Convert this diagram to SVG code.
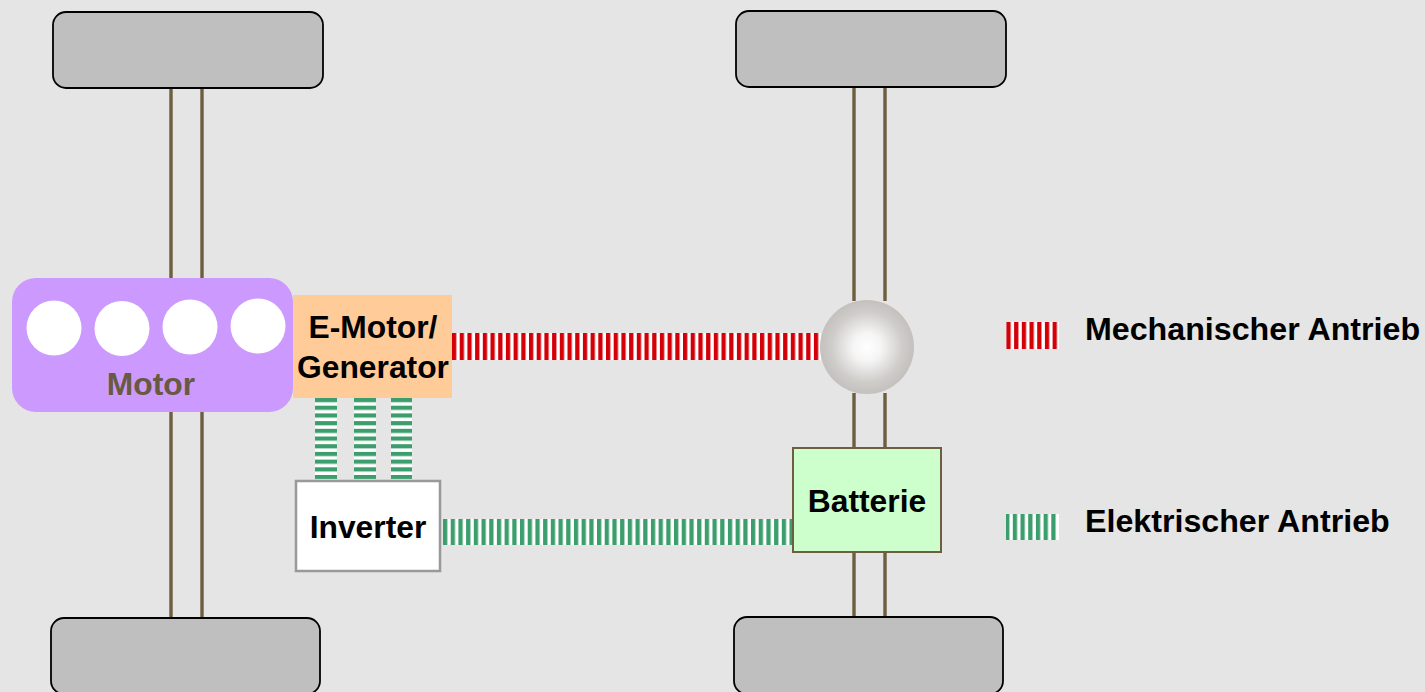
<svg xmlns="http://www.w3.org/2000/svg" width="1425" height="692" viewBox="0 0 1425 692">
<style>
.wheel{fill:#bfbfbf;stroke:#000;stroke-width:1.800}
.shaft{stroke:#6d5e3f;stroke-width:3.400;fill:none}
.cyl{fill:#fff}
text{font-family:"Liberation Sans",Arial,sans-serif;font-weight:700;font-size:31.800px;fill:#000;text-anchor:middle}
.legend{font-size:32.200px;text-anchor:start}
</style>
<defs>
<pattern id="redV" patternUnits="userSpaceOnUse" width="7.7" height="10" x="452"><rect width="7.7" height="10" fill="#fff"/><rect x="0" width="4.300" height="10" fill="#d40008"/></pattern>
<pattern id="greenV" patternUnits="userSpaceOnUse" width="7.7" height="10" x="443"><rect width="7.7" height="10" fill="#fff"/><rect x="0" width="4.300" height="10" fill="#3c9e6c"/></pattern>
<pattern id="greenH" patternUnits="userSpaceOnUse" width="10" height="7.7" y="398"><rect width="10" height="7.7" fill="#fff"/><rect y="0" width="10" height="4.200" fill="#3c9e6c"/></pattern>
<radialGradient id="ball"><stop offset="0" stop-color="#fff"/><stop offset=".3" stop-color="#f6f5f5"/><stop offset=".75" stop-color="#cfcdca"/><stop offset="1" stop-color="#c3c0bd"/></radialGradient>
</defs>
<rect width="1425" height="692" fill="#e5e5e5"/>
<g id="connectors">
<path class="shaft" d="M171 88V278M202 88V278M171 411V618M202 411V618M854 87V301M885 87V301M854 393V449M885 393V449M854 551V617M885 551V617"/>
<rect x="452" y="333" width="369" height="27" fill="url(#redV)"/>
<rect x="443" y="519" width="350" height="26" fill="url(#greenV)"/>
<rect x="315" y="398" width="22" height="81" fill="url(#greenH)"/>
<rect x="354" y="398" width="22" height="81" fill="url(#greenH)"/>
<rect x="391" y="398" width="21" height="81" fill="url(#greenH)"/>
</g>
<g id="wheel-tl"><rect class="wheel" x="53" y="12" width="270" height="76" rx="13"/></g>
<g id="wheel-tr"><rect class="wheel" x="736" y="11" width="270" height="76" rx="13"/></g>
<g id="wheel-bl"><rect class="wheel" x="51" y="618" width="269" height="76" rx="13"/></g>
<g id="wheel-br"><rect class="wheel" x="734" y="617" width="269" height="77" rx="13"/></g>
<g id="motor">
<rect x="12" y="278" width="281" height="134" rx="24" fill="#cc99ff"/>
<circle class="cyl" cx="54" cy="328" r="27.500"/><circle class="cyl" cx="122" cy="328.500" r="27.500"/><circle class="cyl" cx="190" cy="327" r="27.500"/><circle class="cyl" cx="258" cy="326" r="27.500"/>
<text x="151" y="395" style="fill:#675a3e">Motor</text>
</g>
<g id="emotor">
<rect x="293" y="295" width="159" height="103" fill="#ffcc99"/>
<text x="373" y="338">E-Motor/</text>
<text x="373" y="378">Generator</text>
</g>
<g id="inverter">
<rect x="296" y="481" width="144" height="90" fill="#fff" stroke="#999" stroke-width="2.500"/>
<text x="368" y="538">Inverter</text>
</g>
<g id="differential"><circle cx="867" cy="347" r="47" fill="url(#ball)"/></g>
<g id="battery">
<rect x="793" y="448" width="148" height="104" fill="#ccffcc" stroke="#6d5e3f" stroke-width="2"/>
<text x="867" y="512">Batterie</text>
</g>
<g id="legend-mech">
<rect x="1006" y="322" width="53" height="27" fill="url(#redV)"/>
<text class="legend" x="1085" y="340">Mechanischer Antrieb</text>
</g>
<g id="legend-elec">
<rect x="1006" y="514" width="53" height="26" fill="url(#greenV)"/>
<text class="legend" x="1085" y="532">Elektrischer Antrieb</text>
</g>
</svg>
